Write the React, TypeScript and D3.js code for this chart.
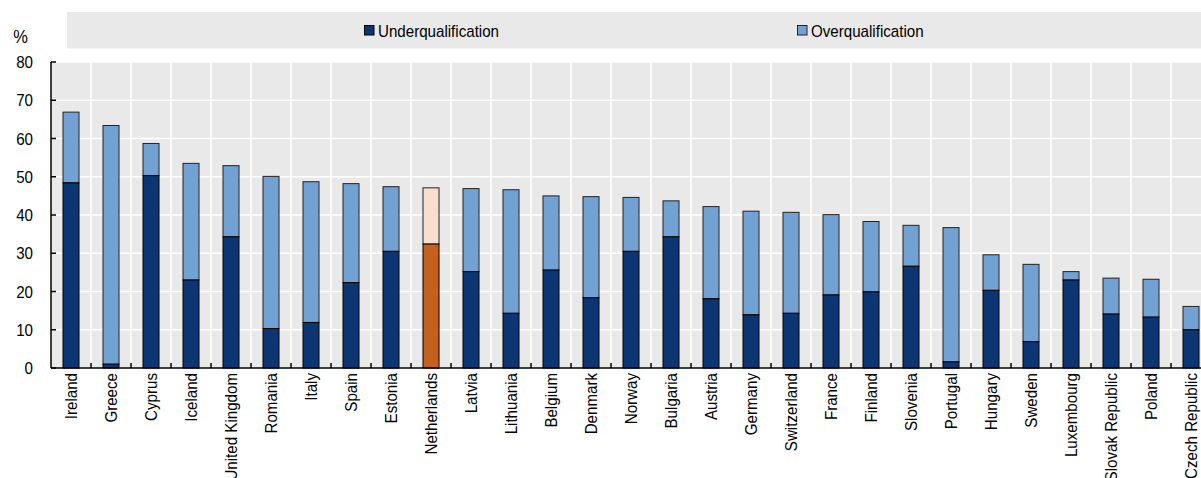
import React from "react";
import * as d3 from "d3";

// Share of workers by qualification mismatch, per country (%)
const countries = [
  "Ireland", "Greece", "Cyprus", "Iceland", "United Kingdom", "Romania", "Italy", "Spain",
  "Estonia", "Netherlands", "Latvia", "Lithuania", "Belgium", "Denmark", "Norway", "Bulgaria",
  "Austria", "Germany", "Switzerland", "France", "Finland", "Slovenia", "Portugal", "Hungary",
  "Sweden", "Luxembourg", "Slovak Republic", "Poland", "Czech Republic",
];
const underqualification = [
  48.4, 1.0, 50.3, 23.0, 34.3, 10.3, 11.9, 22.3,
  30.5, 32.4, 25.2, 14.3, 25.6, 18.4, 30.5, 34.3,
  18.1, 13.9, 14.3, 19.1, 19.9, 26.6, 1.6, 20.3,
  6.9, 23.0, 14.1, 13.3, 10.0,
];
const overqualification = [
  18.5, 62.4, 8.4, 30.5, 18.6, 39.8, 36.8, 25.9,
  16.9, 14.7, 21.7, 32.3, 19.4, 26.4, 14.1, 9.4,
  24.1, 27.1, 26.4, 21.0, 18.4, 10.7, 35.1, 9.3,
  20.2, 2.2, 9.4, 9.9, 6.1,
];
const yTicks = [0, 10, 20, 30, 40, 50, 60, 70, 80];
const highlight = "Netherlands";

const W = 1201;
const H = 478;
const FONT = "'Liberation Sans', Arial, sans-serif";
const FS = 17;
const SQUEEZE = 0.89; // slightly condensed lettering

const COLORS = {
  under: "#0b3673",
  over: "#72a1d3",
  underHi: "#c5601f",
  overHi: "#f7dfd0",
  bg: "#e9e9e9",
};

function Label(props: {
  x: number;
  y: number;
  rotate?: number;
  anchor?: "start" | "middle" | "end";
  dy?: string;
  size?: number;
  children: React.ReactNode;
}) {
  const { x, y, rotate = 0, anchor = "start", dy, size = FS, children } = props;
  return (
    <text
      transform={`translate(${x},${y}) rotate(${rotate}) scale(${SQUEEZE},1)`}
      textAnchor={anchor}
      dy={dy}
      fontSize={size}
      fill="#000"
    >
      {children}
    </text>
  );
}

export default function App() {
  const left = 51;
  const top = 62;
  const bottom = 368;
  const step = 40;

  const x = d3
    .scaleBand<string>()
    .domain(countries)
    .range([left, left + step * countries.length])
    .paddingInner(0.6)
    .paddingOuter(0.3);
  const y = d3.scaleLinear().domain([0, 80]).range([bottom, top]);

  const bw = x.bandwidth();
  const boundaries = countries.slice(1).map((c) => (x(c) as number) - x.step() * 0.3);

  return (
    <svg
      width={W}
      height={H}
      style={{ position: "absolute", left: 0, top: 0, fontFamily: FONT }}
    >
      {/* legend */}
      <rect x={67} y={12} width={W - 67} height={36.5} fill={COLORS.bg} />
      <rect x={364.5} y={25.5} width={9.5} height={9.5} fill={COLORS.under} stroke="#000" strokeWidth={1} />
      <Label x={378} y={37}>Underqualification</Label>
      <rect x={797.5} y={25.5} width={9.5} height={9.5} fill={COLORS.over} stroke="#222" strokeWidth={1} />
      <Label x={811} y={37}>Overqualification</Label>

      {/* unit */}
      <Label x={20.5} y={43} anchor="middle" size={18.5}>%</Label>

      {/* plot background and grid */}
      <rect x={left} y={top} width={W - left} height={bottom - top} fill={COLORS.bg} />
      {yTicks.slice(1).map((t) => (
        <line key={"hg" + t} x1={left} x2={W} y1={y(t)} y2={y(t)} stroke="#fff" strokeWidth={1.5} />
      ))}
      {boundaries.map((bx, i) => (
        <line key={"vg" + i} x1={bx} x2={bx} y1={top} y2={bottom} stroke="#fff" strokeWidth={1.5} />
      ))}

      {/* stacked bars */}
      {countries.map((c, i) => {
        const bx = x(c) as number;
        const u = underqualification[i];
        const o = overqualification[i];
        const hi = c === highlight;
        return (
          <g key={c}>
            <rect
              x={bx}
              y={y(u + o)}
              width={bw}
              height={y(u) - y(u + o)}
              fill={hi ? COLORS.overHi : COLORS.over}
              stroke="#222"
              strokeWidth={1}
            />
            <rect
              x={bx}
              y={y(u)}
              width={bw}
              height={y(0) - y(u)}
              fill={hi ? COLORS.underHi : COLORS.under}
              stroke="#000"
              strokeWidth={1}
            />
          </g>
        );
      })}

      {/* axes */}
      <line x1={left} x2={left} y1={top} y2={bottom} stroke="#000" strokeWidth={1.5} />
      <line x1={left} x2={W} y1={bottom} y2={bottom} stroke="#000" strokeWidth={1.5} />
      {yTicks.map((t) => (
        <g key={"yt" + t}>
          <line x1={left} x2={left + 5} y1={y(t)} y2={y(t)} stroke="#000" strokeWidth={1.5} />
          <Label x={33} y={y(t)} dy="0.36em" anchor="end">{t}</Label>
        </g>
      ))}
      {boundaries.map((bx, i) => (
        <line key={"xt" + i} x1={bx} x2={bx} y1={bottom} y2={bottom - 5} stroke="#000" strokeWidth={1.5} />
      ))}
      {countries.map((c) => (
        <Label
          key={"xl" + c}
          x={(x(c) as number) + bw / 2}
          y={bottom + 5}
          rotate={-90}
          dy="0.36em"
          anchor="end"
        >
          {c}
        </Label>
      ))}
    </svg>
  );
}
